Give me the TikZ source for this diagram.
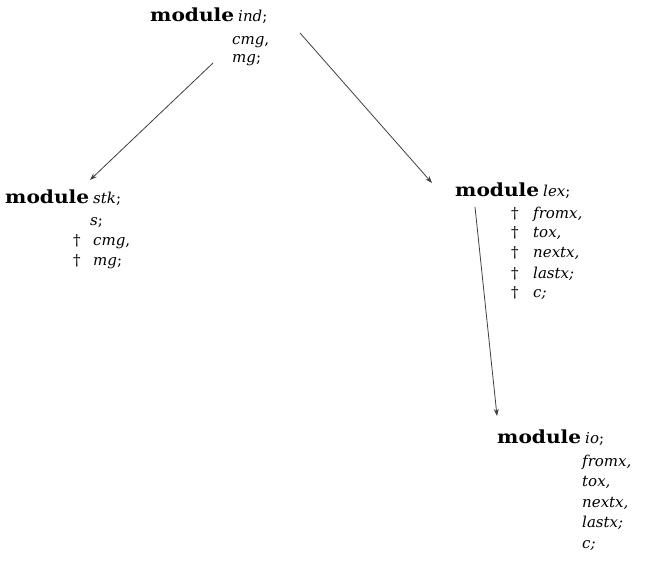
\documentclass[tikz,border=0pt]{standalone}
\usepackage{fontspec}
\setmainfont{DejaVu Serif}
\usetikzlibrary{arrows.meta}
\tikzset{
  txt/.style={anchor=base west, inner sep=0pt, font=\fontsize{15}{18}\selectfont},
  link/.style={draw=black!75, line width=0.8pt, -{Stealth[length=7pt,width=5pt]}}
}
% the keyword, set in a heavy, slightly widened bold
\newcommand{\kw}{\scalebox{1.12}[1]{\fontsize{18}{21}\selectfont\bfseries module}\hspace{4pt}}
\begin{document}
\begin{tikzpicture}[x=1pt,y=-1pt]
\fill[white] (0,0) rectangle (652,583);
\useasboundingbox (0,0) rectangle (652,583);
% module ind
\node[txt] (ind) at (150,22) {\kw\textit{ind};};
\node[txt] (indA) at (232,45) {\textit{cmg},};
\node[txt] (indB) at (232,63) {\textit{mg};};
% module stk
\node[txt] (stk) at (5,203) {\kw\textit{stk};};
\node[txt] (stkA) at (90,225) {\textit{s};};
\node[txt] (stkD1) at (73,245) {†};
\node[txt] (stkB) at (93,245) {\textit{cmg},};
\node[txt] (stkD2) at (73,265) {†};
\node[txt] (stkC) at (93,265) {\textit{mg};};
% module lex
\node[txt] (lex) at (455,196) {\kw\textit{lex};};
\foreach \n/\t/\y in {1/{fromx,}/218, 2/{tox,}/237, 3/{nextx,}/257, 4/{lastx;}/278, 5/{c;}/297}{
  \node[txt] (lexD\n) at (511,\y) {†};
  \node[txt] (lex\n) at (533,\y) {\textit{\t}};
}
% module io
\node[txt] (io) at (497,443) {\kw\textit{io};};
\foreach \n/\t/\y in {1/{fromx,}/466, 2/{tox,}/486, 3/{nextx,}/507, 4/{lastx;}/527, 5/{c;}/548}{
  \node[txt] (io\n) at (582,\y) {\textit{\t}};
}
% import arrows
\coordinate (a1s) at (213,63);
\coordinate (a1e) at (90,180);
\coordinate (a2s) at (300,33);
\coordinate (a2e) at (432,183);
\coordinate (a3s) at (475,207);
\coordinate (a3e) at (497,416);
\draw[link] (a1s) -- (a1e);
\draw[link] (a2s) -- (a2e);
\draw[link] (a3s) -- (a3e);
\end{tikzpicture}
\end{document}
